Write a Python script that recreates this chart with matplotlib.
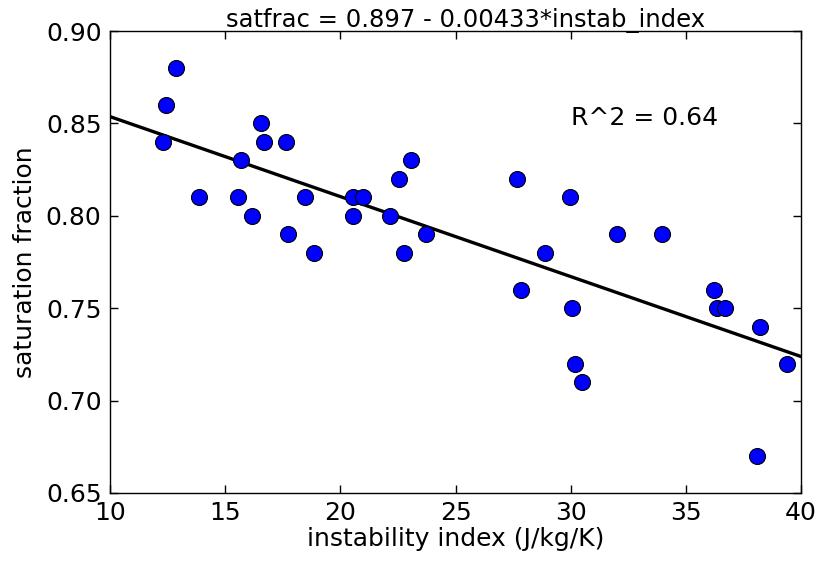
import matplotlib
matplotlib.use("Agg")
import matplotlib.pyplot as plt
import numpy as np

# instability index (J/kg/K) and saturation fraction
instab = [12.3, 12.45, 12.85, 13.85, 15.55, 15.7, 16.15, 16.55, 16.7, 17.65, 17.75,
          18.45, 18.85, 20.55, 20.55, 21.0, 22.15, 22.55, 22.75, 23.05, 23.7,
          27.65, 27.85, 28.9, 29.95, 30.05, 30.2, 30.5, 32.0, 33.95,
          36.2, 36.35, 36.7, 38.1, 38.2, 39.4]
satfrac = [0.84, 0.86, 0.88, 0.81, 0.81, 0.83, 0.80, 0.85, 0.84, 0.84, 0.79,
           0.81, 0.78, 0.81, 0.80, 0.81, 0.80, 0.82, 0.78, 0.83, 0.79,
           0.82, 0.76, 0.78, 0.81, 0.75, 0.72, 0.71, 0.79, 0.79,
           0.76, 0.75, 0.75, 0.67, 0.74, 0.72]

# fit from the title
INTERCEPT = 0.897
SLOPE = -0.00433
R2 = 0.64

plt.rcParams["font.family"] = "DejaVu Sans"
plt.rcParams["font.size"] = 18

fig = plt.figure(figsize=(8.2, 5.64), dpi=100)
ax = fig.add_axes([0.134, 0.126, 0.843, 0.819])

ax.plot(instab, satfrac, "o", color="blue", markeredgecolor="black",
        markeredgewidth=0.8, markersize=11.5, zorder=3)

xf = np.array([10, 40])
ax.plot(xf, INTERCEPT + SLOPE * xf, color="black", lw=2.4, zorder=2)

ax.set_xlim(10, 40)
ax.set_ylim(0.65, 0.90)
ax.set_xticks([10, 15, 20, 25, 30, 35, 40])
ax.set_yticks([0.65, 0.70, 0.75, 0.80, 0.85, 0.90])
ax.set_yticklabels([f"{v:.2f}" for v in [0.65, 0.70, 0.75, 0.80, 0.85, 0.90]])
ax.tick_params(direction="in", top=True, right=True, length=6, width=1,
               labelsize=18, pad=6)
for s in ax.spines.values():
    s.set_linewidth(1)

ax.set_xlabel("instability index (J/kg/K)", fontsize=18, labelpad=1)
ax.set_ylabel("saturation fraction", fontsize=18, labelpad=6)
ax.set_title(f"satfrac = {INTERCEPT} - {abs(SLOPE)}*instab_index", fontsize=17.5,
             pad=3, x=0.514)
ax.text(30, 0.853, f"R^2 = {R2}", fontsize=18, ha="left", va="center")

fig.savefig("out.png", dpi=100, facecolor="white")
